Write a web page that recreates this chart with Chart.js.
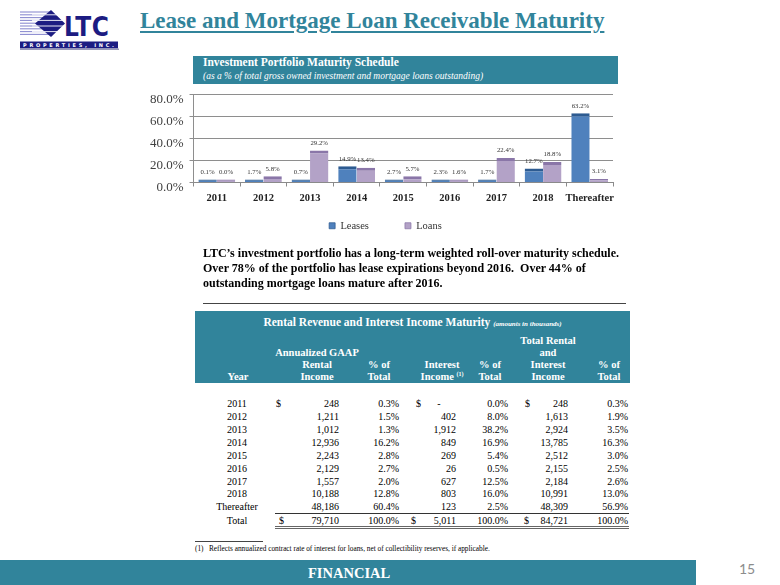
<!DOCTYPE html>
<html><head><meta charset="utf-8">
<script src="https://cdn.jsdelivr.net/npm/chart.js@4.4.0/dist/chart.umd.min.js"></script>
<style>
body{margin:0;width:780px;height:585px;position:relative;background:#fff;font-family:"Liberation Serif","Times New Roman",serif;overflow:hidden}
.a{position:absolute;white-space:nowrap}
.teal{background:#31849B}
.hd{color:#fff;font-weight:bold;font-size:10.5px;line-height:12px;text-align:center;transform:translateX(-50%)}
.cell{font-size:10px;line-height:13px;color:#000}
</style></head>
<body>
<svg class="a" style="left:18px;top:8px" width="104" height="42" viewBox="0 0 104 42">
  <g stroke="#8c8cd0" stroke-width="1.1">
    <line x1="2" y1="4" x2="34" y2="4"/><line x1="2" y1="6.8" x2="34" y2="6.8"/><line x1="2" y1="9.6" x2="34" y2="9.6"/>
    <line x1="2" y1="12.4" x2="34" y2="12.4"/><line x1="2" y1="15.2" x2="34" y2="15.2"/><line x1="2" y1="18" x2="34" y2="18"/>
    <line x1="2" y1="20.8" x2="34" y2="20.8"/><line x1="2" y1="23.6" x2="34" y2="23.6"/><line x1="2" y1="26.4" x2="34" y2="26.4"/>
  </g>
  <polygon points="17,15.5 33,2 47,15.5 33,29" fill="#1c1c82"/>
  <g stroke="#fff" stroke-width="0.9">
    <line x1="14" y1="6.8" x2="50" y2="6.8"/><line x1="14" y1="12.4" x2="50" y2="12.4"/><line x1="14" y1="18" x2="50" y2="18"/><line x1="14" y1="23.6" x2="50" y2="23.6"/>
  </g>
  <text x="46" y="28" font-family="Liberation Sans Narrow, DejaVu Sans Condensed, sans-serif" font-weight="bold" font-size="26" fill="#1c1c82" textLength="45" lengthAdjust="spacing">LTC</text>
  <rect x="2" y="33.5" width="98" height="7" fill="#1c1c82"/>
  <rect x="2" y="40.5" width="99" height="1.5" fill="#9a9ab8"/>
  <text x="5" y="39.4" font-family="DejaVu Sans, sans-serif" font-weight="bold" font-size="5" fill="#fff" textLength="91" lengthAdjust="spacing">PROPERTIES, INC.</text>
</svg>

<div class="a" style="left:140px;top:6px;font-size:23px;line-height:30px;font-weight:bold;color:#31849B;text-decoration:underline;text-decoration-thickness:1.5px;text-underline-offset:3px">Lease and Mortgage Loan Receivable Maturity</div>

<div class="a teal" style="left:193px;top:56px;width:425px;height:28px"></div>
<div class="a" style="left:203px;top:55px;font-size:11.5px;line-height:14px;font-weight:bold;color:#fff">Investment Portfolio Maturity Schedule</div>
<div class="a" style="left:203px;top:70px;font-size:9.5px;line-height:12px;font-style:italic;color:#fff">(as a % of total gross owned investment and mortgage loans outstanding)</div>

<canvas id="c" class="a" style="left:130px;top:81px" width="500" height="186"></canvas>

<div class="a" style="left:203px;top:245.5px;font-size:12px;line-height:15px;font-weight:bold;color:#000">LTC’s investment portfolio has a long-term weighted roll-over maturity schedule.<br>Over 78% of the portfolio has lease expirations beyond 2016.&nbsp; Over 44% of<br>outstanding mortgage loans mature after 2016.</div>
<div class="a" style="left:203px;top:303px;width:423px;height:1px;background:#444"></div>

<div class="a teal" style="left:195px;top:311px;width:435px;height:72px"></div>
<div class="a" style="left:195px;top:314px;width:435px;text-align:center;color:#fff;font-weight:bold;font-size:11.5px;line-height:16px">Rental Revenue and Interest Income Maturity <span style="font-size:7px;font-style:italic">(amounts in thousands)</span></div>
<div id="tbl"></div>

<div class="a" style="left:195px;top:540.5px;width:68px;height:1px;background:#444"></div>
<div class="a" style="left:195px;top:544px;font-size:7.3px;line-height:10px;color:#000">(1)&nbsp;&nbsp; Reflects annualized contract rate of interest for loans, net of collectibility reserves, if applicable.</div>

<div class="a teal" style="left:0;top:560px;width:696px;height:25px"></div>
<div class="a" style="left:308px;top:564px;font-size:14.5px;line-height:18px;font-weight:bold;color:#fff">FINANCIAL</div>
<div class="a" style="left:739px;top:560px;font-family:Lato,'Open Sans',sans-serif;font-size:14px;line-height:18px;color:#8c8c8c">15</div>

<script>
// ---- chart data ----
const categories = ['2011','2012','2013','2014','2015','2016','2017','2018','Thereafter'];
const leases = [0.1, 1.7, 0.7, 14.9, 2.7, 2.3, 1.7, 12.7, 63.2];
const loans  = [0.0, 5.8, 29.2, 13.4, 5.7, 1.6, 22.4, 18.8, 3.1];
const yTicks = [0, 20, 40, 60, 80];

// ---- table data ----
const years = ['2011','2012','2013','2014','2015','2016','2017','2018','Thereafter'];
const rentalIncome = ['248','1,211','1,012','12,936','2,243','2,129','1,557','10,188','48,186'];
const rentalPct = ['0.3%','1.5%','1.3%','16.2%','2.8%','2.7%','2.0%','12.8%','60.4%'];
const interestIncome = ['-','402','1,912','849','269','26','627','803','123'];
const interestPct = ['0.0%','8.0%','38.2%','16.9%','5.4%','0.5%','12.5%','16.0%','2.5%'];
const totalIncome = ['248','1,613','2,924','13,785','2,512','2,155','2,184','10,991','48,309'];
const totalPct = ['0.3%','1.9%','3.5%','16.3%','3.0%','2.5%','2.6%','13.0%','56.9%'];
const totalsRow = ['Total','79,710','100.0%','5,011','100.0%','84,721','100.0%'];

const SERIF = "'Liberation Serif','Times New Roman',serif";

const barLabels = {
  id: 'barLabels',
  afterDatasetsDraw(chart) {
    const ctx = chart.ctx;
    ctx.save();
    ctx.font = '6.8px ' + SERIF;
    ctx.fillStyle = '#333';
    ctx.textAlign = 'center';
    ctx.textBaseline = 'bottom';
    chart.data.datasets.forEach((ds, i) => {
      chart.getDatasetMeta(i).data.forEach((bar, j) => {
        ctx.fillText(ds.data[j].toFixed(1) + '%', bar.x, bar.y - 4);
      });
    });
    ctx.restore();
  }
};
// nudge the legend box to the spot it occupies in the reference
const legendShift = {
  id: 'legendShift',
  afterLayout(chart) {
    const l = chart.legend;
    l.left += 14; l.right += 14;
    l.top -= 26; l.bottom -= 26;
  }
};

new Chart(document.getElementById('c'), {
  type: 'bar',
  data: {
    labels: categories,
    datasets: [
      { label: 'Leases', data: leases, backgroundColor: '#4F81BD', borderColor: '#2D5B91',
        borderWidth: {top: 3, left: 0, right: 0, bottom: 0}, borderSkipped: false, minBarLength: 3 },
      { label: 'Loans', data: loans, backgroundColor: '#B3A2C7', borderColor: '#8A76A8',
        borderWidth: {top: 3, left: 0, right: 0, bottom: 0}, borderSkipped: false, minBarLength: 3 }
    ]
  },
  options: {
    responsive: false, animation: false, devicePixelRatio: 1,
    layout: { padding: { top: 6, right: 17, left: 0, bottom: 0 } },
    datasets: { bar: { categoryPercentage: 0.79, barPercentage: 1.0 } },
    plugins: {
      tooltip: { enabled: false },
      legend: {
        position: 'bottom',
        labels: { boxWidth: 6, boxHeight: 6, padding: 36, color: '#333', font: { family: SERIF, size: 10.5 } }
      }
    },
    scales: {
      x: {
        grid: { display: true, drawOnChartArea: false, offset: true, tickLength: 4, color: '#8a8a8a' },
        border: { color: '#8a8a8a' },
        ticks: { color: '#222', padding: 5, maxRotation: 0, minRotation: 0, autoSkip: false,
                 font: { family: SERIF, size: 10.5, weight: 'bold' } },
        afterFit(s) { s.height = 28; }
      },
      y: {
        min: 0, max: 80,
        afterBuildTicks(s) { s.ticks = yTicks.map(v => ({ value: v })); },
        grid: { color: '#8e8e8e', tickLength: 4 },
        border: { color: '#8e8e8e' },
        ticks: { color: '#404040', padding: 6, labelOffset: 5, font: { family: SERIF, size: 13 },
                 callback: v => Number(v).toFixed(1) + '%' },
        afterFit(s) { s.width = 63.5; }
      }
    }
  },
  plugins: [barLabels, legendShift]
});

// ---- table ----
const tbl = document.getElementById('tbl');
function put(text, opts) {
  const d = document.createElement('div');
  d.className = 'a ' + (opts.cls || 'cell');
  d.textContent = text;
  if (opts.right !== undefined) { d.style.right = (780 - opts.right) + 'px'; d.style.textAlign = 'right'; }
  if (opts.left !== undefined) d.style.left = opts.left + 'px';
  if (opts.center !== undefined) { d.style.left = opts.center + 'px'; d.style.transform = 'translateX(-50%)'; }
  d.style.top = opts.top + 'px';
  tbl.appendChild(d);
}
// headers (bottom line centred at y=377)
const HB = 377 - 6;
[['Year'],['Annualized GAAP','Rental','Income'],['% of','Total'],['Interest','Income'],['% of','Total'],['Total Rental','and','Interest','Income'],['% of','Total']]
.forEach((lines, ci) => {
  const cx = [238, 317, 379, 442, 490, 548, 609][ci];
  lines.forEach((t, li) => {
    const top = HB - (lines.length - 1 - li) * 12;
    const d = document.createElement('div');
    d.className = 'a hd';
    d.style.left = cx + 'px'; d.style.top = top + 'px';
    if (ci === 3 && li === 1) d.innerHTML = 'Income <span style="font-size:6px;position:relative;top:-4px;line-height:0">(1)</span>';
    else d.textContent = t;
    tbl.appendChild(d);
  });
});
const R = { rent: 339, rentP: 399, int: 456, intP: 508, tot: 568, totP: 628 };
years.forEach((y, i) => {
  const top = 403.3 + i * 12.95 - 6.5;
  put(y, { center: 237, top });
  put(rentalIncome[i], { right: R.rent, top });
  put(rentalPct[i], { right: R.rentP, top });
  if (interestIncome[i] === '-') put('-', { center: 439, top });
  else put(interestIncome[i], { right: R.int, top });
  put(interestPct[i], { right: R.intP, top });
  put(totalIncome[i], { right: R.tot, top });
  put(totalPct[i], { right: R.totP, top });
  if (i === 0) { put('$', { left: 276, top }); put('$', { left: 416, top }); put('$', { left: 525, top }); }
});
{
  const top = 520 - 6.5;
  put(totalsRow[0], { center: 237, top });
  put('$', { left: 279, top }); put(totalsRow[1], { right: R.rent, top });
  put(totalsRow[2], { right: R.rentP, top });
  put('$', { left: 411, top }); put(totalsRow[3], { right: R.int, top });
  put(totalsRow[4], { right: R.intP, top });
  put('$', { left: 524, top }); put(totalsRow[5], { right: R.tot, top });
  put(totalsRow[6], { right: R.totP, top });
}
const l1 = document.createElement('div'); l1.className = 'a';
l1.style.cssText = 'left:275px;top:512.5px;width:354px;height:1px;background:#333';
tbl.appendChild(l1);
const l2 = document.createElement('div'); l2.className = 'a';
l2.style.cssText = 'left:275px;top:525.5px;width:354px;height:0;border-top:3px double #666';
tbl.appendChild(l2);
</script>
</body></html>
